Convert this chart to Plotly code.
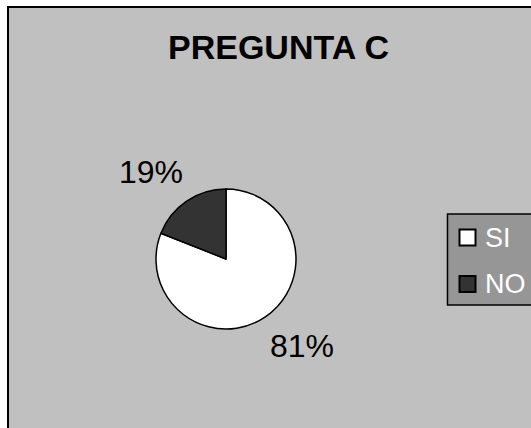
import math
import plotly.graph_objects as go

# ---- data ----
categories = ["SI", "NO"]
values = [81, 19]
colors = ["#ffffff", "#333333"]
title_text = "PREGUNTA C"

W, H = 531, 428
def px(x):
    return x / W
def py(y):
    return 1 - y / H

FONT = "Arial, Liberation Sans, sans-serif"

# pie geometry (pixels)
cx, cy, r = 226, 259, 70

fig = go.Figure()
fig.add_trace(go.Pie(
    labels=categories,
    values=values,
    sort=False,
    direction="clockwise",
    rotation=0,
    marker=dict(colors=colors, line=dict(color="#000000", width=1.5)),
    textinfo="none",
    hoverinfo="label+percent",
    showlegend=False,
    domain=dict(x=[px(cx - r), px(cx + r)], y=[py(cy + r), py(cy - r)]),
))

shapes = []
annotations = []

# chart area background with border
shapes.append(dict(type="rect", xref="paper", yref="paper",
                   x0=px(8), x1=px(W + 20), y0=py(H + 20), y1=py(7),
                   fillcolor="#c0c0c0", line=dict(color="#000000", width=2),
                   layer="below"))

# title
annotations.append(dict(text="<b>" + title_text + "</b>", xref="paper", yref="paper",
                        x=px(278), y=py(47), xanchor="center", yanchor="middle",
                        showarrow=False, font=dict(family=FONT, size=34, color="#000000")))

# percentage labels positioned from slice mid-angles
total = sum(values)
cum = 0
for v in values:
    mid = (cum + v / 2) / total * 2 * math.pi
    cum += v
    dx = math.sin(mid)
    dy = -math.cos(mid)
    d = r * 1.15
    lx = cx + dx * d
    ly = cy + dy * d
    pct = round(v / total * 100)
    annotations.append(dict(text=f"{pct}%", xref="paper", yref="paper",
                            x=px(lx + (4 if dx < 0 else -3)), y=py(ly),
                            xanchor="right" if dx < 0 else "left",
                            yanchor="bottom" if dy < 0 else "top",
                            showarrow=False,
                            font=dict(family=FONT, size=32, color="#000000")))

# legend (manual)
lg_x0, lg_y0, lg_y1 = 447.5, 214, 305
shapes.append(dict(type="rect", xref="paper", yref="paper",
                   x0=px(lg_x0), x1=px(W + 20), y0=py(lg_y1), y1=py(lg_y0),
                   fillcolor="#969696", line=dict(color="#000000", width=1.5)))
item_y = [237.5, 284]
for cat, col, iy in zip(categories, colors, item_y):
    shapes.append(dict(type="rect", xref="paper", yref="paper",
                       x0=px(459.5), x1=px(475.5), y0=py(iy + 8), y1=py(iy - 8),
                       fillcolor=col, line=dict(color="#000000", width=2)))
    annotations.append(dict(text=cat, xref="paper", yref="paper",
                            x=px(483), y=py(iy), xanchor="left", yanchor="middle",
                            showarrow=False,
                            font=dict(family=FONT, size=27, color="#ffffff")))

fig.update_layout(
    width=W, height=H,
    margin=dict(l=0, r=0, t=0, b=0),
    paper_bgcolor="#ffffff",
    plot_bgcolor="#ffffff",
    shapes=shapes,
    annotations=annotations,
)

fig.write_html("out.html")
